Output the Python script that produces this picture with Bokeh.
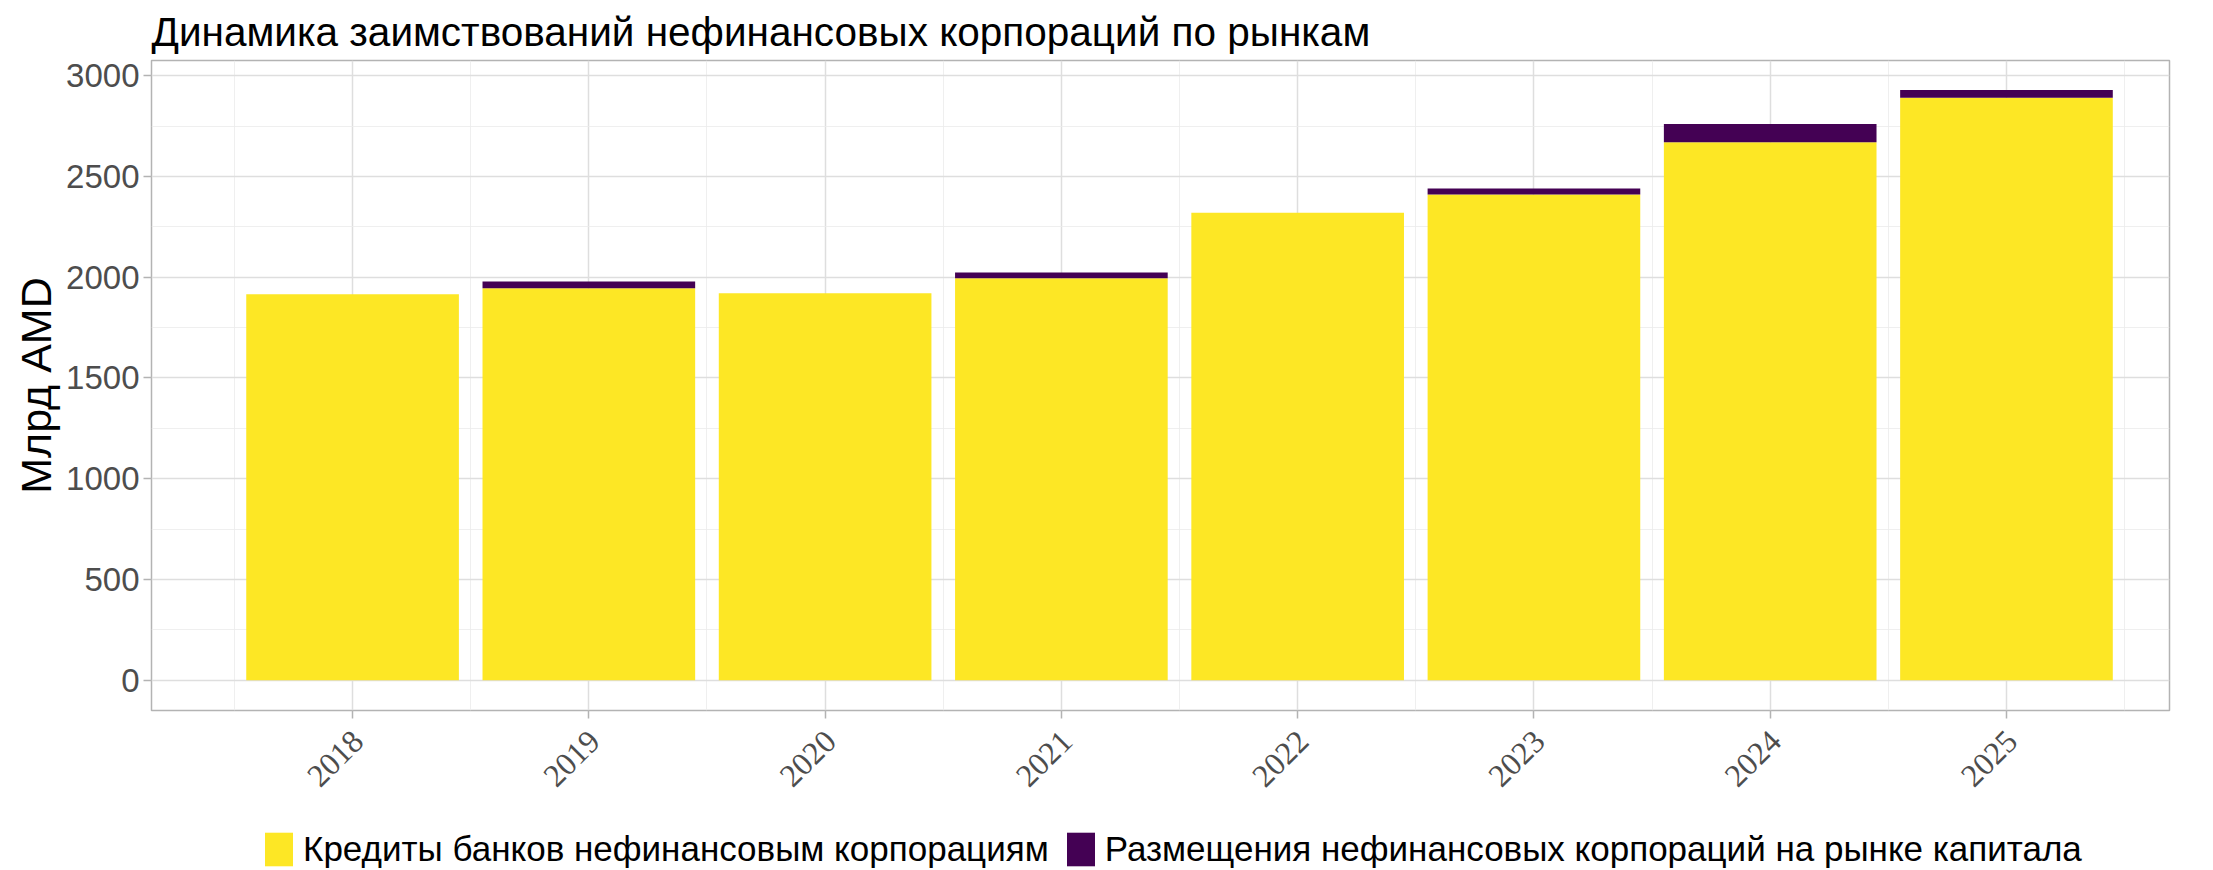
import math
from bokeh.plotting import figure
from bokeh.layouts import column
from bokeh.models import (ColumnDataSource, FixedTicker, Range1d, Legend, LegendItem,
                          LabelSet)
from bokeh.embed import file_html
from bokeh.resources import INLINE

# ---- data ----
years = [2018, 2019, 2020, 2021, 2022, 2023, 2024, 2025]
bank_loans = [1915, 1945, 1920, 1995, 2320, 2410, 2670, 2890]
capital_market = [0, 33, 0, 28, 0, 30, 90, 39]
y_ticks = [0, 500, 1000, 1500, 2000, 2500, 3000]
y_minor = [250, 750, 1250, 1750, 2250, 2750]
series_labels = ["Кредиты банков нефинансовым корпорациям",
                 "Размещения нефинансовых корпораций на рынке капитала"]
series_colors = ["#FDE725", "#440154"]
title_text = "Динамика заимствований нефинансовых корпораций по рынкам"
y_label = "Млрд AMD"

# axis extents
X_LO, X_HI = 2017.149, 2025.69
Y_LO, Y_HI = -150, 3075

x_minor = [y - 0.5 for y in years] + [years[-1] + 0.5]

source = ColumnDataSource(dict(year=years, loans=bank_loans, market=capital_market))

FONT = "Liberation Sans"
x_range = Range1d(X_LO, X_HI)

# ---------------- main chart ----------------
p = figure(frame_width=2018, frame_height=650,
           x_range=x_range, y_range=Range1d(Y_LO, Y_HI),
           output_backend="svg", toolbar_location=None,
           min_border_left=151, min_border_right=28,
           min_border_top=58, min_border_bottom=12)

p.title.text = title_text
p.title.text_font = FONT
p.title.text_font_size = "40.5px"
p.title.text_font_style = "normal"
p.title.text_color = "#000000"
p.title.align = "left"
p.title.standoff = 12

renderers = p.vbar_stack(["loans", "market"], x="year", width=0.9, source=source,
                         color=series_colors, line_width=0)

# x axis: tick marks only (labels drawn in the strip below)
p.xaxis.ticker = FixedTicker(ticks=[], minor_ticks=years)
p.xaxis.minor_tick_line_color = "#B3B3B3"
p.xaxis.minor_tick_line_width = 1.5
p.xaxis.minor_tick_out = 8
p.xaxis.minor_tick_in = 0
p.xaxis.major_tick_line_color = None
p.xaxis.axis_line_color = None
p.xaxis.major_label_standoff = 0

p.yaxis.ticker = FixedTicker(ticks=y_ticks, minor_ticks=y_minor)
p.yaxis.axis_line_color = None
p.yaxis.major_tick_line_color = "#B3B3B3"
p.yaxis.major_tick_line_width = 1.5
p.yaxis.major_tick_out = 8
p.yaxis.major_tick_in = 0
p.yaxis.minor_tick_line_color = None
p.yaxis.major_label_text_font = FONT
p.yaxis.major_label_text_font_size = "33px"
p.yaxis.major_label_text_color = "#4D4D4D"
p.yaxis.major_label_standoff = 4

p.yaxis.axis_label = y_label
p.yaxis.axis_label_text_font = FONT
p.yaxis.axis_label_text_font_size = "43px"
p.yaxis.axis_label_text_font_style = "normal"
p.yaxis.axis_label_text_color = "#000000"
p.yaxis.axis_label_standoff = 3

# grids
for g in (p.xgrid, p.ygrid):
    g.grid_line_color = "#DEDEDE"
    g.grid_line_width = 1.5
    g.minor_grid_line_color = "#EBEBEB"
    g.minor_grid_line_width = 0.8
p.xgrid.ticker = FixedTicker(ticks=years, minor_ticks=x_minor)
p.ygrid.ticker = p.yaxis.ticker

p.outline_line_color = "#B3B3B3"
p.outline_line_width = 1.5
p.background_fill_color = "#FFFFFF"
p.border_fill_color = "#FFFFFF"

# ---------------- strip below: year labels + legend ----------------
q = figure(frame_width=2018, frame_height=146,
           x_range=x_range, y_range=Range1d(0, 1),
           output_backend="svg", toolbar_location=None,
           x_axis_location=None, y_axis_location=None,
           min_border_left=151, min_border_right=28,
           min_border_top=0, min_border_bottom=0)
q.grid.visible = False
q.outline_line_color = None
q.background_fill_color = "#FFFFFF"
q.border_fill_color = "#FFFFFF"

tick_source = ColumnDataSource(dict(year=years, txt=[str(y) for y in years],
                                    top=[1] * len(years)))
xlabels = LabelSet(x="year", y="top", text="txt", source=tick_source,
                   angle=math.pi / 4, text_align="right", text_baseline="top",
                   x_offset=-2, y_offset=-6,
                   text_font=FONT, text_font_size="32px", text_color="#4D4D4D")
q.add_layout(xlabels)

# legend keys: zero-height bars (invisible) that only supply the legend swatches
key_source = ColumnDataSource(dict(x=years[:1], top=[0], bottom=[0]))
keys = [q.vbar(x="x", top="top", bottom="bottom", width=0.9, source=key_source,
               color=c, line_width=0)
        for c in series_colors]

legend = Legend(items=[LegendItem(label=series_labels[0], renderers=[keys[0]]),
                       LegendItem(label=series_labels[1], renderers=[keys[1]])],
                orientation="horizontal", location=(110, -2),
                label_text_font=FONT, label_text_font_size="35px",
                label_text_color="#000000",
                glyph_width=35, glyph_height=42, label_standoff=7, spacing=14,
                margin=0, padding=0, border_line_color=None,
                background_fill_alpha=0)
q.add_layout(legend)

layout = column(p, q, spacing=0)
open("out.html", "w").write(file_html(layout, INLINE))
